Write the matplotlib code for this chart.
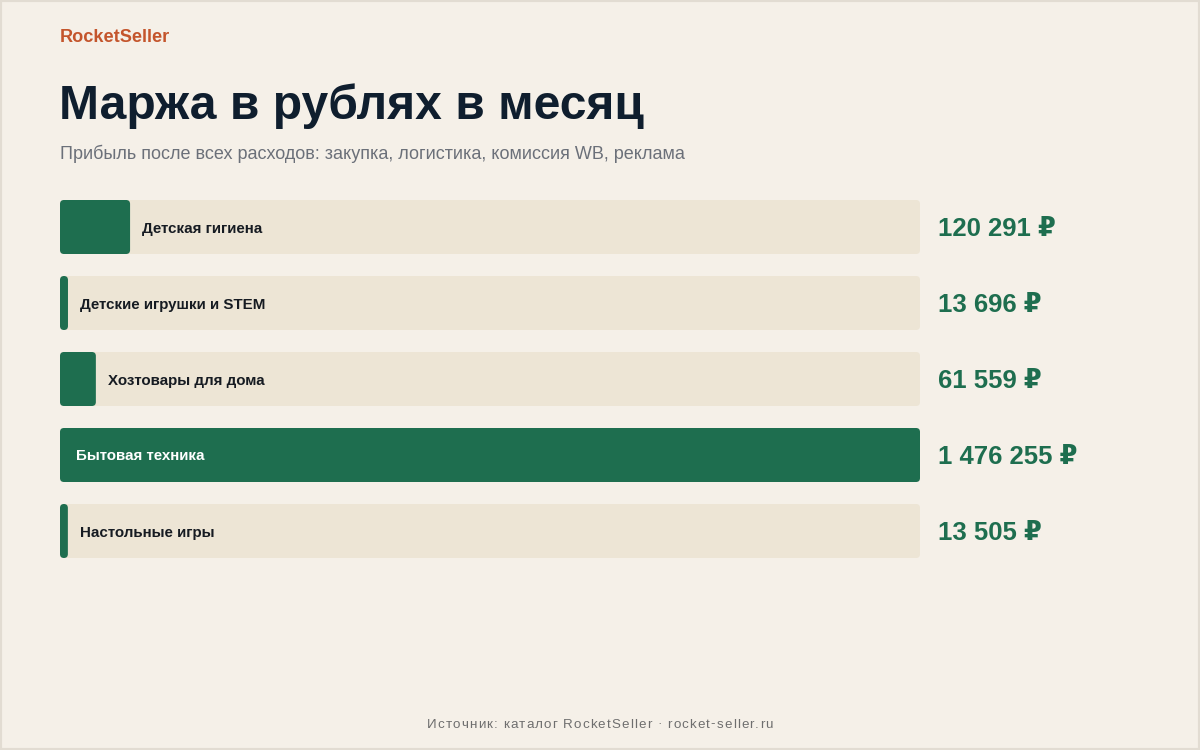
import matplotlib
matplotlib.use('Agg')
import matplotlib.pyplot as plt
from matplotlib.patches import FancyBboxPatch, Rectangle

plt.rcParams['font.family'] = ['Liberation Sans', 'DejaVu Sans']

# данные
categories = ['Детская гигиена', 'Детские игрушки и STEM', 'Хозтовары для дома',
              'Бытовая техника', 'Настольные игры']
margins = [120291, 13696, 61559, 1476255, 13505]
value_labels = ['120 291 ₽', '13 696 ₽', '61 559 ₽', '1 476 255 ₽', '13 505 ₽']

BG = '#F5F0E8'
TRACK = '#EDE5D5'
GREEN = '#1E6E4F'
DARK = '#0F1E2E'

W, H = 1200, 750
fig = plt.figure(figsize=(W / 100, H / 100), dpi=100, facecolor=BG)

# рамка
fig.patches.append(Rectangle((0, 0), 1, 1, transform=fig.transFigure, fill=False,
                             edgecolor='#E2DCD2', linewidth=3))

def fx(px):
    return px / W

def fy(py):
    return 1 - py / H

fig.text(fx(60), fy(37.5), 'RocketSeller', fontsize=13.1, fontweight='bold',
         color='#C4552C', va='center')
fig.text(fx(59), fy(106), 'Маржа в рублях в месяц', fontsize=34.6, fontweight='bold',
         color=DARK, va='center')
fig.text(fx(60), fy(153.5), 'Прибыль после всех расходов: закупка, логистика, комиссия WB, реклама',
         fontsize=12.95, color='#6B7079', va='center')

# подпись внизу с разрядкой букв
footer = 'Источник: каталог RocketSeller · rocket-seller.ru'
renderer = fig.canvas.get_renderer()
spacing = 1.1
widths = []
for ch in footer:
    t = fig.text(0, 0, ch if ch != ' ' else 'a a', fontsize=9.6)
    w = t.get_window_extent(renderer).width
    if ch == ' ':
        t2 = fig.text(0, 0, 'aa', fontsize=9.6)
        w = w - t2.get_window_extent(renderer).width
        t2.remove()
    widths.append(w)
    t.remove()
total = sum(widths) + spacing * (len(footer) - 1)
x0 = W / 2 - total / 2
for ch, w in zip(footer, widths):
    if ch != ' ':
        fig.text(fx(x0), fy(724.5), ch, fontsize=9.6, color='#6E6E6E', ha='left', va='center')
    x0 += w + spacing

# оси для полос: 60..920 px по x, 200..558 px по y
left, right, top, bottom = 60, 920, 200, 558
ax = fig.add_axes([fx(left), fy(bottom), (right - left) / W, (bottom - top) / H])
ax.set_facecolor('none')
vmax = max(margins)
ax.set_xlim(0, vmax)
row_px = 76
bar_px = 54
half = bar_px / 2 / row_px
ax.set_ylim(len(categories) - 1 + half, -half)
ax.axis('off')

x_per_px = vmax / (right - left)
y_per_px = 1 / row_px
r = 4 * x_per_px
aspect = y_per_px / x_per_px
bh = bar_px / row_px

for i, (cat, val, lab) in enumerate(zip(categories, margins, value_labels)):
    ax.add_patch(FancyBboxPatch((0, i - bh / 2), vmax, bh,
                                boxstyle=f'round,pad=0,rounding_size={r}',
                                mutation_aspect=aspect, facecolor=TRACK,
                                edgecolor='none'))
    ax.add_patch(FancyBboxPatch((0, i - bh / 2), val, bh,
                                boxstyle=f'round,pad=0,rounding_size={min(r, val / 2)}',
                                mutation_aspect=aspect, facecolor=GREEN,
                                edgecolor='none'))
    ty = i + 1.5 * y_per_px
    if val / vmax > 0.3:
        ax.text(16 * x_per_px, ty, cat, fontsize=10.9, fontweight='bold', color='white',
                va='center', ha='left')
    else:
        ax.text(val + 12 * x_per_px, ty, cat, fontsize=10.9, fontweight='bold', color='#161B22',
                va='center', ha='left')
    ax.text(vmax + 18 * x_per_px, i + 2 * y_per_px, lab, fontsize=18.5, fontweight='bold',
            color=GREEN, va='center', ha='left', clip_on=False)

fig.savefig('out.png', dpi=100, facecolor=BG)
